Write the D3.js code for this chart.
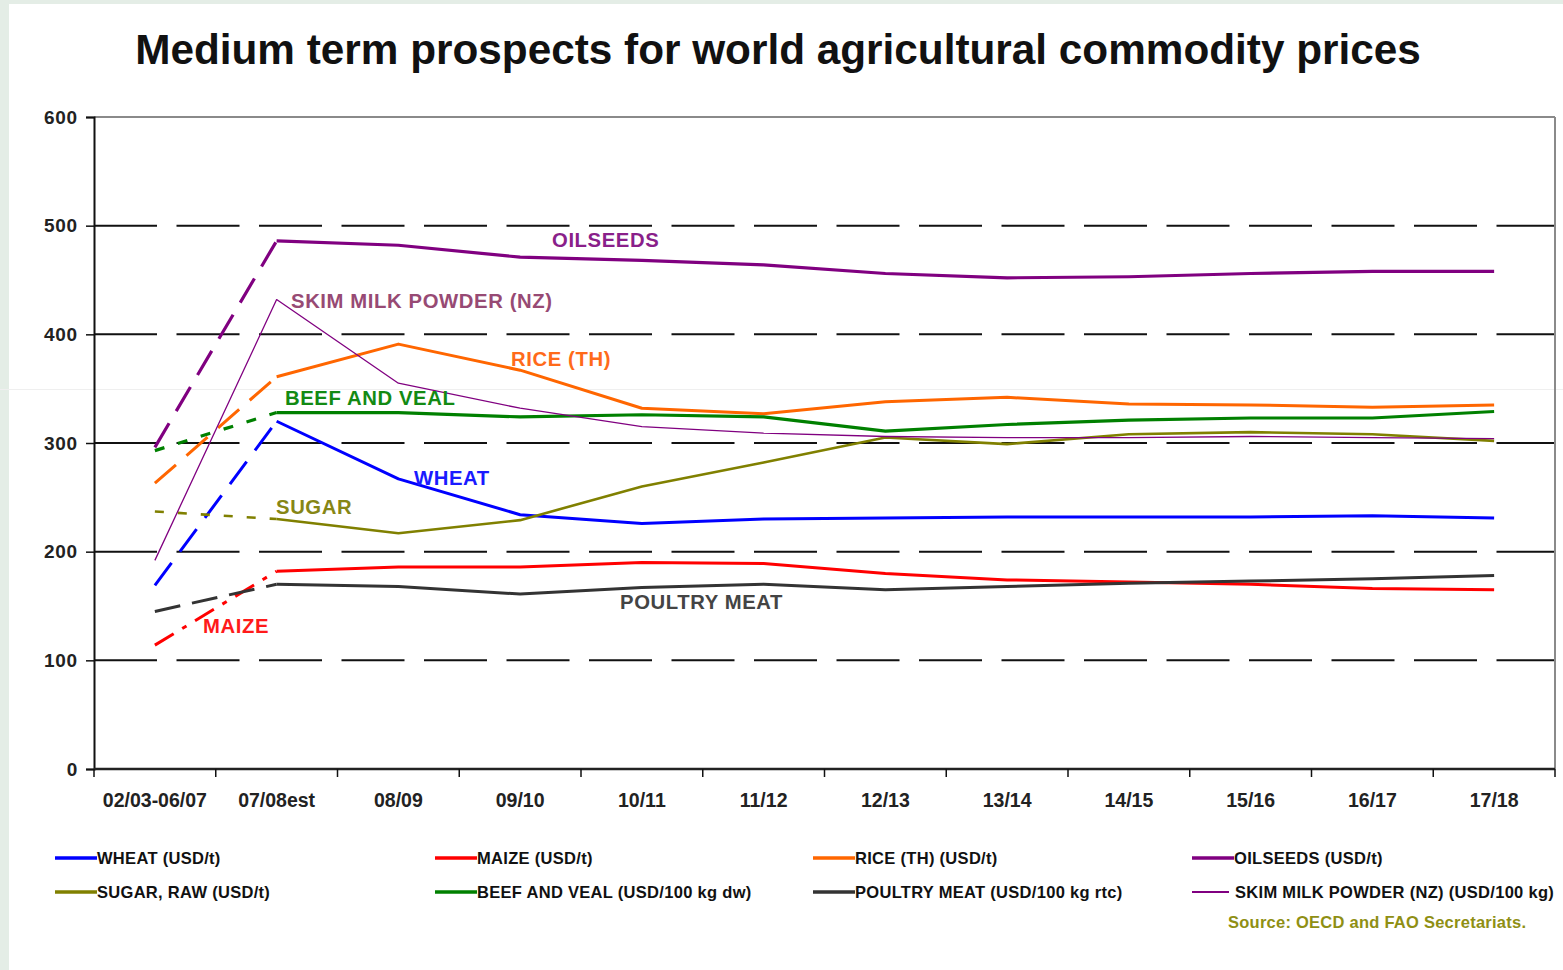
<!DOCTYPE html>
<html>
<head>
<meta charset="utf-8">
<script src="https://cdn.jsdelivr.net/npm/d3@7"></script>
<style>
  html, body { margin: 0; padding: 0; background: #e4ede6; }
  svg { display: block; }
  text { font-family: "Liberation Sans", Arial, Helvetica, sans-serif; }
</style>
</head>
<body>
<svg id="chart" width="1563" height="970"></svg>
<script>
// ---- data ----
const categories = ["02/03-06/07","07/08est","08/09","09/10","10/11","11/12","12/13","13/14","14/15","15/16","16/17","17/18"];
const yTicks = [0, 100, 200, 300, 400, 500, 600];

const wheat    = [169, 320, 267, 234, 226, 230, 231, 232, 232, 232, 233, 231];
const maize    = [114, 182, 186, 186, 190, 189, 180, 174, 172, 170, 166, 165];
const rice     = [263, 361, 391, 367, 332, 327, 338, 342, 336, 335, 333, 335];
const oilseeds = [296, 486, 482, 471, 468, 464, 456, 452, 453, 456, 458, 458];
const sugar    = [237, 230, 217, 229, 260, 282, 305, 299, 308, 310, 308, 302];
const beef     = [293, 328, 328, 324, 326, 324, 311, 317, 321, 323, 323, 329];
const poultry  = [145, 170, 168, 161, 167, 170, 165, 168, 171, 173, 175, 178];
const skimMilk = [192, 432, 355, 332, 315, 309, 306, 305, 305, 306, 305, 304];

const seriesNames  = ["WHEAT (USD/t)", "MAIZE (USD/t)", "RICE (TH) (USD/t)", "OILSEEDS (USD/t)",
                      "SUGAR, RAW (USD/t)", "BEEF AND VEAL (USD/100 kg dw)", "POULTRY MEAT (USD/100 kg rtc)", "SKIM MILK POWDER (NZ) (USD/100 kg)"];
const seriesLabels = ["WHEAT", "MAIZE", "RICE (TH)", "OILSEEDS", "SUGAR", "BEEF AND VEAL", "POULTRY MEAT", "SKIM MILK POWDER (NZ)"];
const seriesValues = [wheat, maize, rice, oilseeds, sugar, beef, poultry, skimMilk];

// ---- styles ----
const colors      = ["#0000ff", "#ff0000", "#ff6600", "#800080", "#808000", "#008000", "#333333", "#800080"];
const labelColors = ["#1a1aff", "#ff1a1a", "#ff6a1a", "#8a1f8a", "#868615", "#138a13", "#444444", "#974a74"];
const widths      = [3, 3, 3, 3.2, 2.6, 3.2, 3, 1.3];
const firstDash   = ["28,14", "22,10,5,10", "28,14", "28,14", "9,14", "10,14", "26,12", null];
const labelPos = [
  {x: 414, y: 485}, {x: 203, y: 633}, {x: 511, y: 366}, {x: 552, y: 247},
  {x: 276, y: 514}, {x: 285, y: 405}, {x: 620, y: 609}, {x: 291, y: 308}
];

const svg = d3.select("#chart");
const W = 1563, H = 970;
const M = {left: 94, right: 1555, top: 117, bottom: 769};

// white panel
svg.append("rect").attr("x", 9).attr("y", 4).attr("width", W - 9).attr("height", H - 4).attr("fill", "#ffffff");
// faint artifact line
svg.append("line").attr("x1", 0).attr("x2", W).attr("y1", 389.5).attr("y2", 389.5)
  .attr("stroke", "#efefef").attr("stroke-width", 1);

// title
svg.append("text").attr("x", 778).attr("y", 64).attr("text-anchor", "middle")
  .attr("font-size", 42.3).attr("font-weight", "bold").attr("fill", "#111")
  .text("Medium term prospects for world agricultural commodity prices");

const x = d3.scaleBand().domain(categories).range([M.left, M.right]).padding(0);
const y = d3.scaleLinear().domain([0, 600]).range([M.bottom, M.top]);
const cx = c => x(c) + x.bandwidth() / 2;

// grid lines
svg.append("g").selectAll("line").data(yTicks.filter(v => v > 0 && v < 600)).join("line")
  .attr("x1", M.left).attr("x2", M.right)
  .attr("y1", d => y(d)).attr("y2", d => y(d))
  .attr("stroke", "#111").attr("stroke-width", 2).attr("stroke-dasharray", "63,19.5");

// top & right border
svg.append("line").attr("x1", M.left).attr("x2", M.right).attr("y1", y(600)).attr("y2", y(600))
  .attr("stroke", "#8a8a8a").attr("stroke-width", 2);
svg.append("line").attr("x1", M.right).attr("x2", M.right).attr("y1", y(600)).attr("y2", M.bottom)
  .attr("stroke", "#8a8a8a").attr("stroke-width", 2);

// y axis
const yAxis = d3.axisLeft(y).tickValues(yTicks).tickSize(8).tickPadding(8).tickFormat(d3.format("d"));
const gy = svg.append("g").attr("transform", `translate(${M.left},0)`).call(yAxis);
gy.select(".domain").attr("stroke", "#111").attr("stroke-width", 2);
gy.selectAll(".tick line").attr("stroke", "#111").attr("stroke-width", 1.5);
gy.selectAll(".tick text").attr("font-size", 19).attr("font-weight", "bold").attr("fill", "#222")
  .attr("letter-spacing", 0.8)
  .attr("font-family", "\"Liberation Sans\", Arial, sans-serif");

// x axis (ticks at band boundaries)
const xAxisG = svg.append("g");
xAxisG.append("line").attr("x1", M.left).attr("x2", M.right).attr("y1", M.bottom).attr("y2", M.bottom)
  .attr("stroke", "#222").attr("stroke-width", 2.5);
const bounds = categories.map(c => x(c)).concat([M.right]);
xAxisG.selectAll("line.tk").data(bounds).join("line").attr("class", "tk")
  .attr("x1", d => d).attr("x2", d => d).attr("y1", M.bottom).attr("y2", M.bottom + 8)
  .attr("stroke", "#111").attr("stroke-width", 1.5);
xAxisG.selectAll("text").data(categories).join("text")
  .attr("x", d => cx(d)).attr("y", 807).attr("text-anchor", "middle")
  .attr("font-size", 19.5).attr("font-weight", "bold").attr("fill", "#222")
  .text(d => d);

// lines
const line = d3.line().x(d => cx(d.c)).y(d => y(d.v));
const gl = svg.append("g");
seriesValues.forEach((vals, i) => {
  const pts = vals.map((v, j) => ({c: categories[j], v}));
  if (firstDash[i]) {
    gl.append("path").attr("d", line(pts.slice(0, 2))).attr("fill", "none")
      .attr("stroke", colors[i]).attr("stroke-width", widths[i]).attr("stroke-dasharray", firstDash[i]);
    gl.append("path").attr("d", line(pts.slice(1))).attr("fill", "none")
      .attr("stroke", colors[i]).attr("stroke-width", widths[i]).attr("stroke-linejoin", "round");
  } else {
    gl.append("path").attr("d", line(pts)).attr("fill", "none")
      .attr("stroke", colors[i]).attr("stroke-width", widths[i]).attr("stroke-linejoin", "round");
  }
});

// in-chart labels
svg.append("g").selectAll("text").data(seriesLabels).join("text")
  .attr("x", (d, i) => labelPos[i].x).attr("y", (d, i) => labelPos[i].y)
  .attr("font-size", 20.3).attr("font-weight", "bold").attr("letter-spacing", 0.6)
  .attr("fill", (d, i) => labelColors[i]).text(d => d);

// legend
const legCols = [55, 435, 813, 1192];
const legRows = [858, 892];
const lg = svg.append("g");
seriesNames.forEach((name, i) => {
  const col = i % 4, row = Math.floor(i / 4);
  const x0 = legCols[col], yy = legRows[row];
  const thin = i === 7;
  lg.append("line").attr("x1", x0).attr("x2", x0 + (thin ? 37 : 42)).attr("y1", yy).attr("y2", yy)
    .attr("stroke", colors[i]).attr("stroke-width", thin ? 1.8 : 3.5);
  lg.append("text").attr("x", x0 + (thin ? 43 : 42)).attr("y", yy + 6)
    .attr("font-size", 16.5).attr("font-weight", "bold").attr("letter-spacing", 0.3)
    .attr("fill", "#111").text(name);
});

// source
svg.append("text").attr("x", 1228).attr("y", 928).attr("font-size", 16.5).attr("font-weight", "bold")
  .attr("letter-spacing", 0.25).attr("fill", "#8f8f14").text("Source: OECD and FAO Secretariats.");
</script>
</body>
</html>
